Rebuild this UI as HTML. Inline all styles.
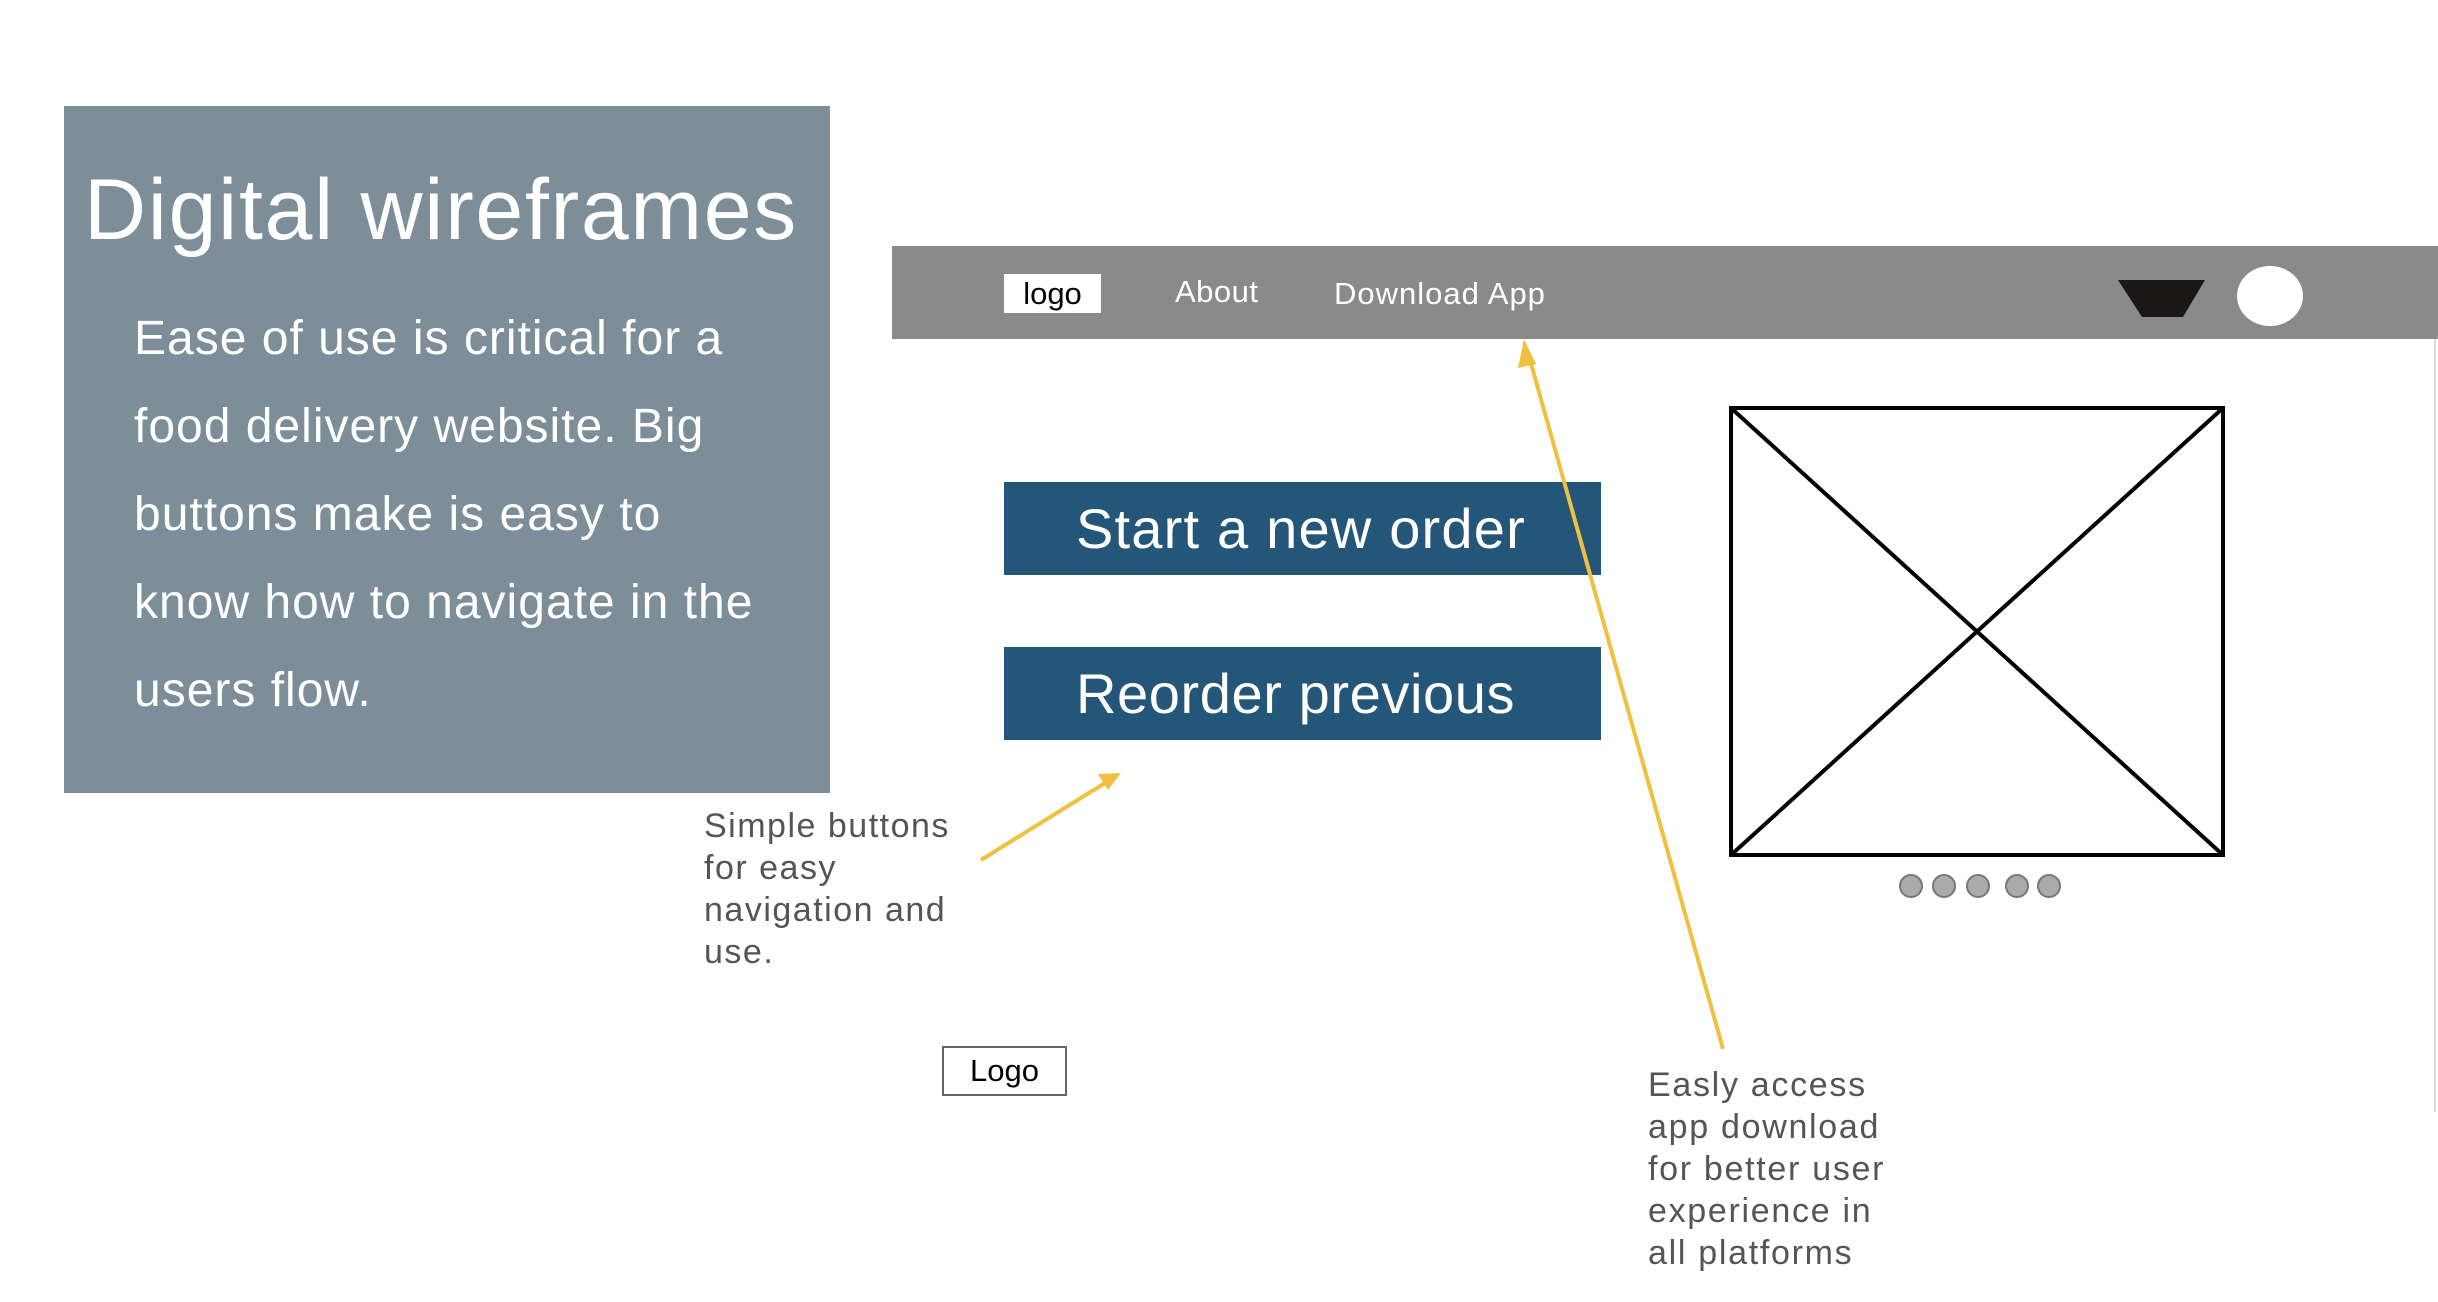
<!DOCTYPE html>
<html><head><meta charset="utf-8"><style>
body{margin:0;width:2438px;height:1302px;background:#fff;position:relative;overflow:hidden;font-family:"Liberation Sans",sans-serif}
.a{position:absolute;white-space:nowrap}
</style></head><body>
<div class="a" style="left:64px;top:106px;width:766px;height:687px;background:#7d8e99"></div>
<div class="a" style="left:84px;top:160px;font-size:86px;color:#fff;line-height:100px;letter-spacing:1.7px">Digital wireframes</div>
<div class="a" style="left:134px;top:295px;font-size:48px;color:#fff;line-height:88px;letter-spacing:1px">Ease of use is critical for a<br>food delivery website. Big<br>buttons make is easy to<br>know how to navigate in the<br>users flow.</div>

<div class="a" style="left:892px;top:246px;width:1546px;height:93px;background:#8a8a8a"></div>
<div class="a" style="left:2434px;top:339px;width:2px;height:773px;background:#ddd"></div>
<div class="a" style="left:1004px;top:274px;width:97px;height:39px;background:#fff;font-size:31px;text-align:center;line-height:39px;color:#000">logo</div>
<div class="a" style="left:1175px;top:273px;font-size:31px;color:#fff;line-height:38px;letter-spacing:0.5px">About</div>
<div class="a" style="left:1334px;top:275px;font-size:31px;color:#fff;line-height:38px;letter-spacing:1px">Download App</div>

<div class="a" style="left:1004px;top:482px;width:597px;height:93px;background:#24567a;color:#fff;font-size:56px;line-height:93px;padding-left:72px;box-sizing:border-box;letter-spacing:1.2px">Start a new order</div>
<div class="a" style="left:1004px;top:647px;width:597px;height:93px;background:#24567a;color:#fff;font-size:56px;line-height:93px;padding-left:72px;box-sizing:border-box;letter-spacing:0.6px">Reorder previous</div>

<div class="a" style="left:704px;top:805px;font-size:34px;color:#555;line-height:42px;letter-spacing:1.5px">Simple buttons<br>for easy<br>navigation and<br>use.</div>
<div class="a" style="left:942px;top:1046px;width:125px;height:50px;border:2px solid #666;box-sizing:border-box;font-size:31px;text-align:center;line-height:46px;color:#000">Logo</div>
<div class="a" style="left:1648px;top:1064px;font-size:34px;color:#555;line-height:42px;letter-spacing:1.7px">Easly access<br>app download<br>for better user<br>experience in<br>all platforms</div>

<svg class="a" style="left:0;top:0" width="2438" height="1302">
<polygon points="2118,280 2205,280 2183,317 2142,317" fill="#1a1716"/>
<ellipse cx="2270" cy="296" rx="33" ry="30" fill="#fff"/>
<rect x="1731" y="408" width="492" height="447" fill="none" stroke="#000" stroke-width="4"/>
<line x1="1731" y1="408" x2="2223" y2="855" stroke="#000" stroke-width="4"/>
<line x1="2223" y1="408" x2="1731" y2="855" stroke="#000" stroke-width="4"/>
<g fill="#aaa" stroke="#777" stroke-width="2">
<circle cx="1911" cy="886" r="11"/><circle cx="1944" cy="886" r="11"/><circle cx="1978" cy="886" r="11"/><circle cx="2017" cy="886" r="11"/><circle cx="2049" cy="886" r="11"/>
</g>
<g stroke="#f0c040" stroke-width="4" fill="#f0c040">
<line x1="981" y1="860" x2="1105" y2="783"/>
<polygon points="1121,773 1098,774 1108,790" stroke="none"/>
<line x1="1723" y1="1049" x2="1530" y2="360"/>
<polygon points="1524,339 1518,368 1536,364" stroke="none"/>
</g>
</svg>
</body></html>
